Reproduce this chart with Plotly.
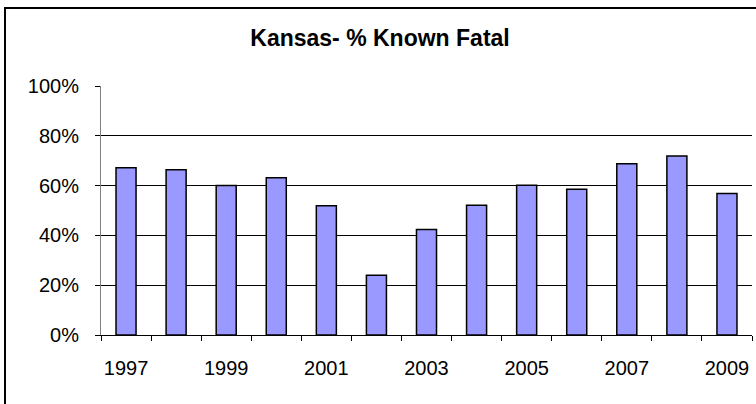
import plotly.graph_objects as go

years = [str(y) for y in range(1997, 2010)]
pct_known_fatal = [0.672, 0.664, 0.600, 0.632, 0.519, 0.240, 0.424,
                   0.521, 0.601, 0.585, 0.688, 0.719, 0.568]
tick_labels = [y if int(y) % 2 == 1 else "" for y in years]
y_ticks = [0, 0.2, 0.4, 0.6, 0.8, 1.0]

W, H = 756, 404
ml, mr, mt, mb = 101, 4, 86, 69
pw, ph = W - ml - mr, H - mt - mb

fig = go.Figure()
fig.add_trace(go.Bar(
    x=years, y=pct_known_fatal,
    marker=dict(color="#9999FF", line=dict(color="#000000", width=1.5)),
    hoverinfo="x+y",
))

font = "Liberation Sans, Arial, sans-serif"
fig.update_layout(
    width=W, height=H,
    margin=dict(l=ml, r=mr, t=mt, b=mb, pad=0, autoexpand=False),
    paper_bgcolor="white", plot_bgcolor="white",
    bargap=0.6,
    showlegend=False,
    font=dict(family=font, size=20, color="#000000"),
    title=dict(text="<b>Kansas- % Known Fatal</b>", x=(380 - ml) / pw, xref="paper",
               xanchor="center", y=1 - 38 / H, yanchor="middle",
               font=dict(family=font, size=23, color="#000000")),
    xaxis=dict(
        type="category", tickvals=years, ticktext=tick_labels,
        tickson="boundaries", ticks="outside", ticklen=5, tickcolor="#000000",
        showline=True, linecolor="#000000", linewidth=1,
        showgrid=False, ticklabelstandoff=15, tickangle=0, automargin=False,
        tickfont=dict(family=font, size=20, color="#000000"),
    ),
    yaxis=dict(
        range=[0, 1], tickvals=y_ticks, tickformat=".0%",
        ticks="outside", ticklen=5, tickcolor="#000000",
        showline=True, linecolor="#808080", linewidth=1,
        showgrid=True, gridcolor="#000000", gridwidth=1,
        zeroline=False, ticklabelstandoff=12, automargin=False,
        tickfont=dict(family=font, size=20, color="#000000"),
    ),
)

# outer chart border (right/bottom edges lie outside the visible canvas)
fig.add_shape(type="rect", xref="paper", yref="paper",
              x0=(5 - ml) / pw, x1=(W + 20 - ml) / pw,
              y0=(H - mb - (H + 20)) / ph, y1=(H - mb - 8) / ph,
              line=dict(color="#000000", width=2), fillcolor="rgba(0,0,0,0)",
              layer="above")

fig.write_html("out.html", config={"displayModeBar": False},
               post_script="document.body.style.margin='0';document.body.style.overflow='hidden';")
